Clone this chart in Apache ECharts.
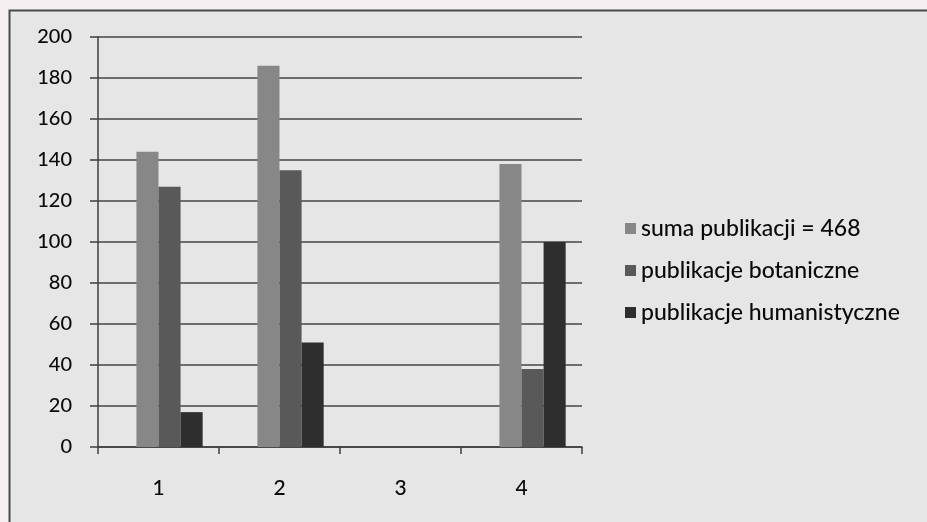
<!DOCTYPE html>
<html>
<head>
<meta charset="utf-8">
<script src="https://cdn.jsdelivr.net/npm/echarts@6/dist/echarts.min.js"></script>
<style>
  html, body { margin: 0; padding: 0; background: #f3eff0; }
  #chart { width: 927px; height: 522px; }
</style>
</head>
<body>
<div id="chart"></div>
<script>
// Publication counts per period
const categories = ['1', '2', '3', '4'];
const sumaPublikacji = [144, 186, 0, 138];
const publikacjeBotaniczne = [127, 135, 0, 38];
const publikacjeHumanistyczne = [17, 51, 0, 100];
// empty leading column kept by the source sheet (occupies the first slot in each group)
const emptyColumn = [null, null, null, null];
const yTicks = { min: 0, max: 200, interval: 20 };

const names = ['suma publikacji = 468', 'publikacje botaniczne', 'publikacje humanistyczne'];
const colors = ['#878787', '#595959', '#2e2e2e'];
const font = 'Lato, "Open Sans", sans-serif';

const chart = echarts.init(document.getElementById('chart'), null, { renderer: 'canvas' });
chart.setOption({
  backgroundColor: 'transparent',
  animation: false,
  graphic: [{
    type: 'rect',
    shape: { x: 9.5, y: 10.5, width: 940, height: 540 },
    style: { fill: '#e7e6e6', stroke: '#4a4a4a', lineWidth: 2 },
    z: -10
  }],
  grid: { left: 98, top: 37, right: 345, bottom: 75, containLabel: false },
  legend: {
    orient: 'vertical',
    left: 620,
    top: 212,
    itemWidth: 11,
    itemHeight: 11,
    itemGap: 19,
    icon: 'rect',
    data: names,
    textStyle: { fontFamily: font, fontSize: 23, color: '#0a0a0a', fontWeight: 500 }
  },
  xAxis: {
    type: 'category',
    data: categories,
    axisLine: { lineStyle: { color: '#3e3e3e', width: 1.5 } },
    axisTick: { show: true, length: 7, lineStyle: { color: '#3e3e3e', width: 1.5 } },
    axisLabel: { margin: 31, fontFamily: font, fontSize: 21, color: '#0a0a0a', fontWeight: 500 },
    splitLine: { show: false }
  },
  yAxis: {
    type: 'value',
    min: yTicks.min,
    max: yTicks.max,
    interval: yTicks.interval,
    axisLine: { show: true, lineStyle: { color: '#3e3e3e', width: 1.5 } },
    axisTick: { show: true, length: 8, lineStyle: { color: '#3e3e3e', width: 1.5 } },
    axisLabel: { margin: 26, fontFamily: font, fontSize: 20, color: '#0a0a0a', fontWeight: 500 },
    splitLine: { show: true, lineStyle: { color: '#444', width: 1.5 } }
  },
  series: [
    { name: '', type: 'bar', data: emptyColumn, barGap: '0%', barCategoryGap: '27%' },
    { name: names[0], type: 'bar', data: sumaPublikacji, itemStyle: { color: colors[0] }, barGap: '0%', barCategoryGap: '27%' },
    { name: names[1], type: 'bar', data: publikacjeBotaniczne, itemStyle: { color: colors[1] }, barGap: '0%', barCategoryGap: '27%' },
    { name: names[2], type: 'bar', data: publikacjeHumanistyczne, itemStyle: { color: colors[2] }, barGap: '0%', barCategoryGap: '27%' }
  ]
});
</script>
</body>
</html>
